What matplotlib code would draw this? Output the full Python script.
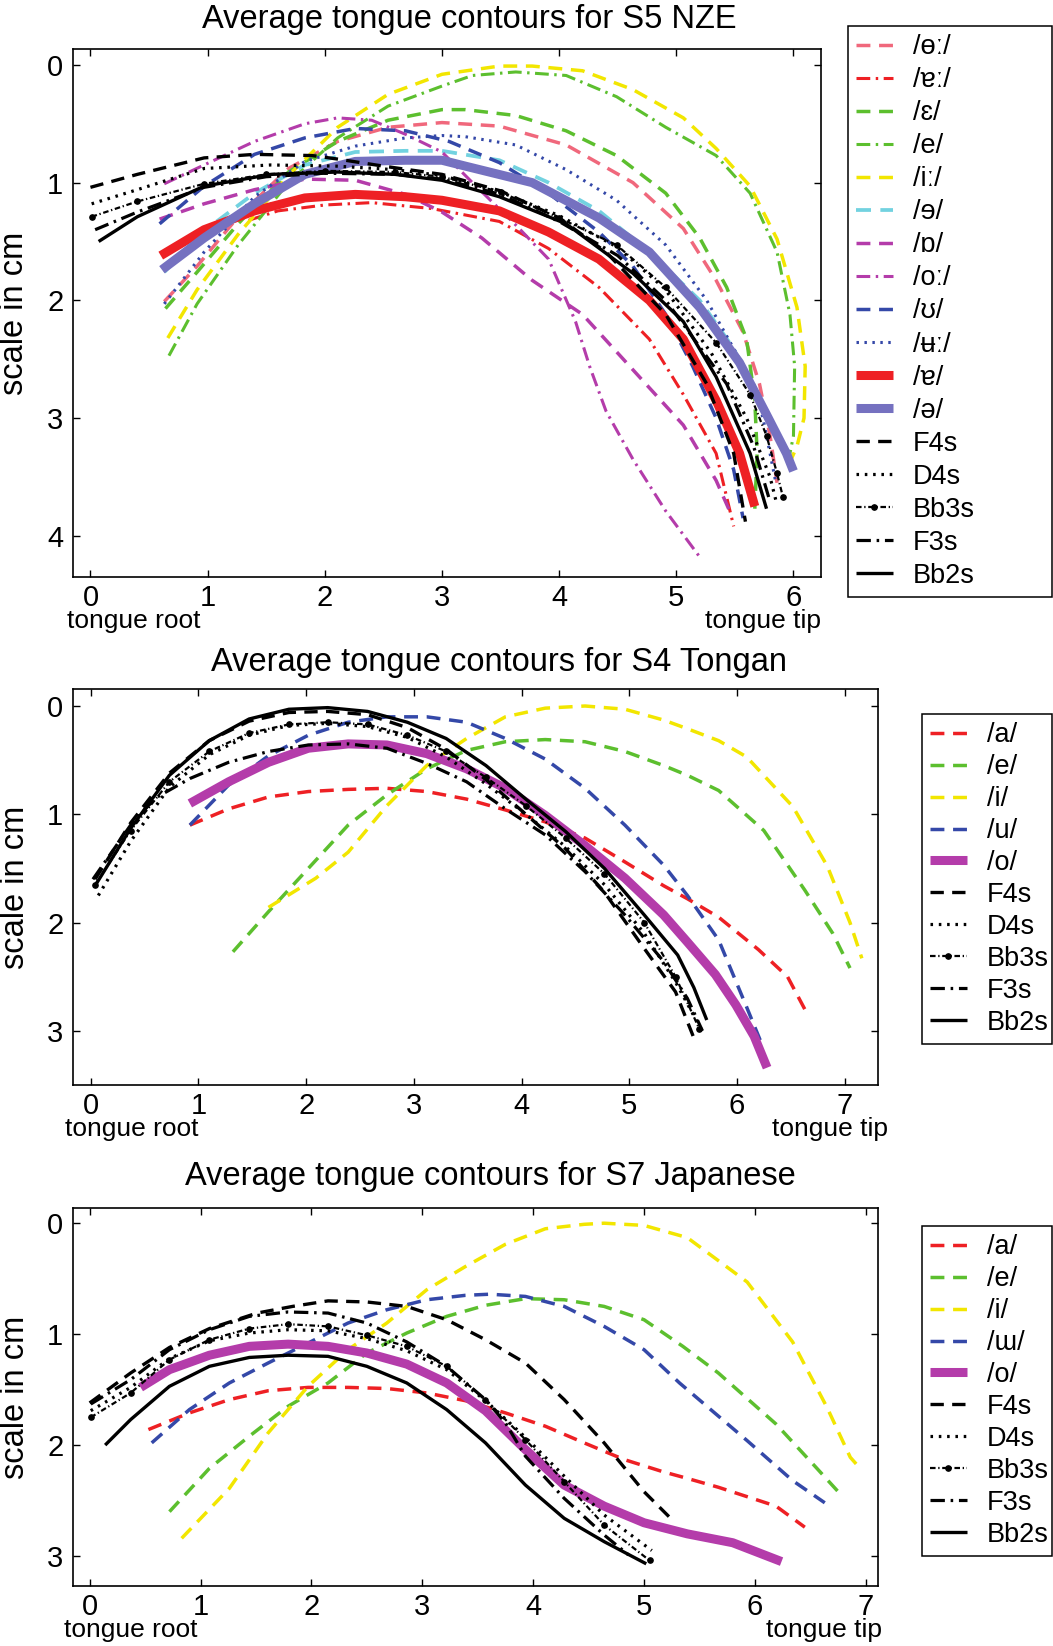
import matplotlib
matplotlib.use('Agg')
import matplotlib.pyplot as plt

plt.rcParams['font.family'] = ['Liberation Sans', 'DejaVu Sans']

# ---------------- data: S5 NZE ----------------
nze_labels = ['/ɵː/', '/ɐː/', '/ɛ/', '/e/', '/iː/', '/ɘ/', '/ɒ/', '/oː/', '/ʊ/', '/ʉː/', '/ɐ/', '/ə/',
              'F4s', 'D4s', 'Bb3s', 'F3s', 'Bb2s']
nze_x = [
    [0.63, 0.91, 1.26, 1.69, 2.11, 2.54, 3.0, 3.49, 4.06, 4.63, 5.06, 5.34, 5.57, 5.71, 5.80, 5.86],
    [1.35, 1.6, 2.0, 2.4, 2.91, 3.49, 3.91, 4.34, 4.77, 5.06, 5.34, 5.49],
    [0.64, 0.91, 1.26, 1.69, 2.11, 2.54, 3.0, 3.2, 3.63, 4.06, 4.49, 4.91, 5.2, 5.43, 5.6, 5.67, 5.69, 5.67],
    [0.67, 0.91, 1.26, 1.69, 2.11, 2.54, 3.0, 3.26, 3.63, 4.06, 4.49, 4.91, 5.34, 5.63, 5.86, 5.97, 6.01, 6.0, 5.95],
    [0.66, 0.91, 1.26, 1.69, 2.11, 2.54, 3.0, 3.49, 3.77, 4.2, 4.63, 5.06, 5.34, 5.63, 5.86, 6.03, 6.1, 6.09, 6.03, 5.94],
    [0.63, 0.97, 1.4, 1.83, 2.26, 2.69, 3.0, 3.49, 3.91, 4.34, 4.77, 5.2, 5.49, 5.66, 5.75],
    [0.59, 0.97, 1.4, 1.83, 2.26, 2.69, 3.0, 3.34, 3.77, 4.2, 4.63, 5.06, 5.34, 5.46],
    [0.63, 0.97, 1.4, 1.83, 2.11, 2.4, 2.69, 3.0, 3.26, 3.63, 3.91, 4.14, 4.26, 4.4, 4.63, 4.91, 5.2],
    [0.59, 0.97, 1.4, 1.83, 2.26, 2.69, 3.06, 3.49, 3.91, 4.34, 4.63, 4.91, 5.14, 5.34, 5.49, 5.57],
    [0.63, 0.97, 1.4, 1.83, 2.26, 2.69, 3.0, 3.2, 3.63, 4.06, 4.49, 4.91, 5.26, 5.49, 5.66, 5.74, 5.8, 5.85],
    [0.6, 0.97, 1.4, 1.83, 2.26, 2.69, 3.0, 3.49, 3.91, 4.34, 4.77, 5.06, 5.34, 5.54, 5.67],
    [0.61, 0.97, 1.4, 1.83, 2.26, 2.69, 3.0, 3.2, 3.77, 4.34, 4.77, 5.2, 5.54, 5.77, 5.94, 6.0],
    [0.0, 0.4, 0.97, 1.4, 1.89, 2.11, 2.5, 3.0, 3.5, 4.0, 4.4, 4.91, 5.26, 5.49, 5.59],
    [0.01, 0.4, 0.97, 1.54, 2.1, 2.6, 3.0, 3.5, 4.0, 4.5, 4.9, 5.3, 5.6, 5.8, 5.85],
    [0.01, 0.4, 0.97, 1.5, 2.0, 2.6, 3.0, 3.5, 4.0, 4.49, 4.91, 5.34, 5.63, 5.77, 5.86, 5.91],
    [0.04, 0.4, 0.97, 1.5, 2.0, 2.6, 3.0, 3.5, 4.0, 4.5, 4.91, 5.43, 5.66, 5.8],
    [0.07, 0.4, 0.97, 1.54, 2.11, 2.6, 3.0, 3.49, 4.06, 4.63, 5.06, 5.34, 5.63, 5.77],
]
nze_y = [
    [2.01, 1.71, 1.29, 0.88, 0.65, 0.53, 0.49, 0.52, 0.68, 1.0, 1.39, 1.83, 2.27, 2.71, 3.15, 3.55],
    [1.32, 1.24, 1.19, 1.17, 1.22, 1.33, 1.56, 1.89, 2.33, 2.80, 3.30, 3.92],
    [2.07, 1.76, 1.35, 0.91, 0.65, 0.47, 0.38, 0.38, 0.43, 0.56, 0.77, 1.09, 1.47, 1.89, 2.33, 2.85, 3.30, 3.77],
    [2.47, 2.03, 1.53, 1.0, 0.62, 0.35, 0.18, 0.09, 0.06, 0.09, 0.27, 0.53, 0.77, 1.09, 1.59, 2.12, 2.56, 3.15, 3.40],
    [2.32, 1.91, 1.44, 0.94, 0.53, 0.25, 0.08, 0.01, 0.01, 0.05, 0.21, 0.45, 0.71, 1.03, 1.48, 2.06, 2.56, 3.0, 3.24, 3.44],
    [1.76, 1.41, 1.09, 0.85, 0.74, 0.73, 0.73, 0.81, 1.0, 1.24, 1.59, 2.0, 2.41, 2.77, 2.95],
    [1.31, 1.18, 1.06, 0.97, 0.98, 1.1, 1.25, 1.47, 1.83, 2.12, 2.59, 3.06, 3.53, 3.8],
    [1.01, 0.85, 0.65, 0.5, 0.45, 0.47, 0.59, 0.74, 1.0, 1.36, 1.65, 2.18, 2.56, 2.94, 3.35, 3.79, 4.18],
    [1.35, 1.03, 0.76, 0.62, 0.54, 0.56, 0.65, 0.83, 1.09, 1.42, 1.71, 2.12, 2.56, 3.0, 3.44, 3.85],
    [2.03, 1.59, 1.12, 0.82, 0.69, 0.62, 0.6, 0.61, 0.68, 0.89, 1.15, 1.53, 2.0, 2.41, 2.71, 3.0, 3.3, 3.55],
    [1.62, 1.4, 1.24, 1.13, 1.1, 1.12, 1.15, 1.24, 1.42, 1.65, 2.0, 2.33, 2.85, 3.3, 3.75],
    [1.74, 1.47, 1.18, 0.93, 0.82, 0.81, 0.81, 0.86, 1.0, 1.3, 1.59, 2.06, 2.53, 2.97, 3.30, 3.45],
    [1.04, 0.93, 0.79, 0.76, 0.77, 0.8, 0.86, 0.93, 1.07, 1.3, 1.59, 2.12, 2.71, 3.3, 3.88],
    [1.18, 1.06, 0.88, 0.85, 0.86, 0.89, 0.94, 1.08, 1.28, 1.55, 1.9, 2.45, 3.0, 3.5, 3.7],
    [1.29, 1.16, 1.01, 0.93, 0.9, 0.91, 0.95, 1.08, 1.3, 1.53, 1.89, 2.36, 2.8, 3.15, 3.47, 3.67],
    [1.4, 1.25, 1.04, 0.95, 0.92, 0.93, 0.97, 1.1, 1.33, 1.62, 2.0, 2.71, 3.24, 3.71],
    [1.5, 1.29, 1.03, 0.93, 0.91, 0.93, 0.98, 1.12, 1.35, 1.77, 2.18, 2.65, 3.30, 3.77],
]

# ---------------- data: S4 Tongan ----------------
ton_labels = ['/a/', '/e/', '/i/', '/u/', '/o/', 'F4s', 'D4s', 'Bb3s', 'F3s', 'Bb2s']
ton_x = [
    [0.92, 1.28, 1.65, 2.02, 2.39, 2.75, 3.12, 3.49, 3.85, 4.22, 4.59, 4.96, 5.32, 5.54, 5.83, 6.2, 6.47, 6.63],
    [1.32, 1.65, 2.02, 2.39, 2.75, 3.12, 3.49, 3.85, 4.22, 4.59, 4.96, 5.32, 5.54, 5.83, 6.25, 6.63, 6.89, 7.05],
    [1.65, 2.09, 2.39, 2.75, 3.12, 3.49, 3.85, 4.22, 4.59, 4.96, 5.32, 5.54, 5.83, 6.09, 6.52, 6.84, 7.05, 7.16],
    [0.92, 1.28, 1.65, 2.02, 2.39, 2.75, 3.12, 3.49, 3.85, 4.22, 4.59, 4.96, 5.32, 5.54, 5.83, 6.09, 6.23],
    [0.92, 1.28, 1.65, 2.02, 2.39, 2.75, 3.12, 3.49, 3.85, 4.22, 4.59, 4.96, 5.32, 5.54, 5.8, 5.99, 6.16, 6.28],
    [0.04, 0.37, 0.73, 1.1, 1.47, 1.84, 2.2, 2.57, 2.94, 3.3, 3.67, 4.04, 4.41, 4.77, 5.14, 5.43, 5.61],
    [0.07, 0.37, 0.73, 1.1, 1.47, 1.84, 2.2, 2.57, 2.94, 3.3, 3.67, 4.04, 4.41, 4.77, 5.14, 5.43, 5.65],
    [0.04, 0.37, 0.73, 1.1, 1.47, 1.84, 2.2, 2.57, 2.94, 3.3, 3.67, 4.04, 4.41, 4.77, 5.14, 5.43, 5.65],
    [0.02, 0.37, 0.6, 0.92, 1.28, 1.65, 2.02, 2.39, 2.75, 3.12, 3.49, 3.85, 4.22, 4.59, 4.96, 5.32, 5.54, 5.68],
    [0.04, 0.37, 0.73, 1.1, 1.47, 1.84, 2.2, 2.57, 2.94, 3.3, 3.67, 4.04, 4.41, 4.77, 5.14, 5.45, 5.6, 5.72],
]
ton_y = [
    [1.1, 0.95, 0.84, 0.79, 0.77, 0.76, 0.79, 0.86, 0.96, 1.07, 1.22, 1.44, 1.66, 1.78, 1.95, 2.25, 2.5, 2.8],
    [2.27, 1.9, 1.5, 1.1, 0.82, 0.58, 0.41, 0.33, 0.31, 0.33, 0.42, 0.55, 0.64, 0.78, 1.15, 1.7, 2.1, 2.42],
    [1.86, 1.59, 1.35, 0.92, 0.55, 0.3, 0.1, 0.02, 0.0, 0.03, 0.13, 0.21, 0.32, 0.47, 0.93, 1.48, 2.0, 2.33],
    [1.1, 0.73, 0.46, 0.27, 0.15, 0.1, 0.1, 0.15, 0.3, 0.49, 0.76, 1.1, 1.47, 1.75, 2.16, 2.78, 3.12],
    [0.9, 0.7, 0.52, 0.39, 0.35, 0.36, 0.44, 0.58, 0.76, 1.01, 1.29, 1.59, 1.93, 2.18, 2.48, 2.76, 3.05, 3.34],
    [1.6, 1.08, 0.62, 0.32, 0.14, 0.06, 0.05, 0.08, 0.2, 0.4, 0.68, 1.0, 1.32, 1.72, 2.24, 2.64, 3.09],
    [1.75, 1.25, 0.75, 0.45, 0.27, 0.18, 0.16, 0.19, 0.29, 0.47, 0.72, 1.0, 1.3, 1.65, 2.1, 2.55, 2.95],
    [1.65, 1.15, 0.7, 0.42, 0.25, 0.17, 0.15, 0.17, 0.27, 0.42, 0.66, 0.92, 1.22, 1.55, 2.0, 2.5, 2.98],
    [1.6, 1.1, 0.85, 0.67, 0.52, 0.42, 0.36, 0.35, 0.39, 0.53, 0.7, 0.95, 1.19, 1.53, 1.93, 2.36, 2.7, 3.0],
    [1.66, 1.13, 0.64, 0.32, 0.12, 0.03, 0.015, 0.05, 0.15, 0.3, 0.55, 0.86, 1.16, 1.5, 1.93, 2.3, 2.6, 2.9],
]

# ---------------- data: S7 Japanese ----------------
jap_labels = ['/a/', '/e/', '/i/', '/ɯ/', '/o/', 'F4s', 'D4s', 'Bb3s', 'F3s', 'Bb2s']
jap_x = [
    [0.53, 0.9, 1.26, 1.61, 1.97, 2.33, 2.68, 3.04, 3.39, 3.75, 4.11, 4.46, 4.82, 5.17, 5.39, 5.67, 6.19, 6.45],
    [0.72, 1.08, 1.44, 1.79, 2.15, 2.5, 2.86, 3.22, 3.57, 3.93, 4.28, 4.64, 5.0, 5.35, 5.67, 6.19, 6.55, 6.76],
    [0.83, 1.26, 1.61, 1.97, 2.33, 2.68, 3.04, 3.39, 3.75, 4.11, 4.46, 4.64, 5.0, 5.39, 5.93, 6.34, 6.65, 6.86, 6.94],
    [0.56, 0.9, 1.26, 1.61, 1.97, 2.33, 2.68, 3.04, 3.39, 3.61, 3.93, 4.28, 4.64, 5.0, 5.32, 5.93, 6.34, 6.63],
    [0.46, 0.72, 1.08, 1.44, 1.79, 2.15, 2.5, 2.86, 3.22, 3.57, 3.93, 4.28, 4.64, 5.0, 5.39, 5.8, 6.24],
    [0.0, 0.37, 0.72, 1.08, 1.51, 1.83, 2.15, 2.5, 2.86, 3.22, 3.57, 3.93, 4.28, 4.64, 5.0, 5.24],
    [0.01, 0.37, 0.72, 1.08, 1.44, 1.79, 2.15, 2.5, 2.86, 3.22, 3.57, 3.93, 4.28, 4.64, 5.07],
    [0.01, 0.37, 0.72, 1.08, 1.44, 1.79, 2.15, 2.5, 2.86, 3.22, 3.57, 3.93, 4.28, 4.64, 5.05],
    [0.01, 0.37, 0.72, 1.08, 1.44, 1.79, 2.15, 2.5, 2.86, 3.22, 3.57, 3.75, 3.93, 4.28, 4.64, 4.86],
    [0.14, 0.37, 0.72, 1.08, 1.44, 1.79, 2.15, 2.5, 2.86, 3.22, 3.57, 3.93, 4.28, 4.64, 5.02],
]
jap_y = [
    [1.86, 1.71, 1.59, 1.51, 1.48, 1.48, 1.49, 1.53, 1.6, 1.71, 1.83, 1.98, 2.13, 2.24, 2.3, 2.38, 2.55, 2.74],
    [2.6, 2.21, 1.92, 1.65, 1.44, 1.17, 0.99, 0.84, 0.74, 0.68, 0.69, 0.75, 0.87, 1.11, 1.35, 1.81, 2.2, 2.43],
    [2.84, 2.39, 1.89, 1.47, 1.14, 0.9, 0.6, 0.39, 0.19, 0.05, 0.01, 0.0, 0.02, 0.13, 0.53, 1.07, 1.66, 2.11, 2.2],
    [1.98, 1.68, 1.44, 1.26, 1.08, 0.9, 0.78, 0.69, 0.65, 0.64, 0.66, 0.75, 0.93, 1.14, 1.44, 1.96, 2.32, 2.52],
    [1.48, 1.32, 1.19, 1.11, 1.09, 1.11, 1.17, 1.27, 1.44, 1.69, 2.04, 2.36, 2.55, 2.7, 2.8, 2.88, 3.05],
    [1.62, 1.35, 1.12, 0.95, 0.81, 0.75, 0.7, 0.71, 0.75, 0.87, 1.05, 1.26, 1.59, 1.98, 2.42, 2.66],
    [1.69, 1.48, 1.22, 1.06, 0.99, 0.96, 0.97, 1.04, 1.15, 1.32, 1.6, 1.93, 2.28, 2.63, 2.95],
    [1.75, 1.53, 1.23, 1.05, 0.95, 0.91, 0.93, 1.01, 1.11, 1.29, 1.59, 1.95, 2.33, 2.72, 3.04],
    [1.63, 1.41, 1.14, 0.96, 0.84, 0.8, 0.81, 0.9, 1.07, 1.29, 1.59, 1.8, 2.1, 2.48, 2.81, 2.99],
    [2.0, 1.77, 1.47, 1.29, 1.21, 1.19, 1.2, 1.29, 1.44, 1.68, 1.98, 2.36, 2.66, 2.87, 3.07],
]

# ---------------- styles ----------------
DASH = (0, (4, 2.5))
DASHDOT = (0, (4.5, 1.8, 0.8, 1.8))
DOT = (0, (0.8, 1.8))
BB3 = (0, (2.5, 1.2, 0.6, 1.2))

PINK = '#f0687c'
RED = '#ee2024'
GREEN = '#5cbf2e'
YELLOW = '#f2e600'
CYAN = '#72d2e0'
MAGENTA = '#b43caa'
BLUE = '#3448a8'
SLATE = '#7571c0'

# (color, linestyle, linewidth, marker)
black_styles = [
    ('black', DASH, 2.4, None),
    ('black', DOT, 2.3, None),
    ('black', BB3, 1.6, 'o'),
    ('black', DASHDOT, 2.3, None),
    ('black', '-', 2.4, None),
]
nze_styles = [
    (PINK, DASH, 2.5, None),
    (RED, DASHDOT, 2.2, None),
    (GREEN, DASH, 2.5, None),
    (GREEN, DASHDOT, 2.2, None),
    (YELLOW, DASH, 2.5, None),
    (CYAN, DASH, 2.7, None),
    (MAGENTA, DASH, 2.5, None),
    (MAGENTA, DASHDOT, 2.2, None),
    (BLUE, DASH, 2.5, None),
    (BLUE, DOT, 2.2, None),
    (RED, '-', 6.5, None),
    (SLATE, '-', 6.5, None),
] + black_styles
vowel5_styles = [
    (RED, DASH, 2.5, None),
    (GREEN, DASH, 2.5, None),
    (YELLOW, DASH, 2.5, None),
    (BLUE, DASH, 2.5, None),
    (MAGENTA, '-', 6.5, None),
] + black_styles

W, H = 1053, 1646
fig = plt.figure(figsize=(W / 100, H / 100), dpi=100)


def draw(rect, xs, ys, labels, styles, xlim, ylim, xticks, yticks, title, title_x, title_off,
         ylab_x, root_x, tip_x, leg_box, spacing):
    ax = fig.add_axes(rect)
    for x, y, lab, (c, ls, lw, mk) in zip(xs, ys, labels, styles):
        ax.plot(x, y, color=c, linestyle=ls, linewidth=lw, label=lab,
                marker=mk, markersize=3.8, solid_capstyle='butt', dash_capstyle='butt')
    ax.set_xlim(*xlim)
    ax.set_ylim(*ylim)
    ax.set_xticks(xticks)
    ax.set_yticks(yticks)
    ax.tick_params(direction='in', length=5, width=1, labelsize=21, top=True, right=True)
    ax.tick_params(axis='x', pad=5)
    ax.tick_params(axis='y', pad=7)
    for s in ax.spines.values():
        s.set_linewidth(1.2)
    ax.set_ylabel('scale in cm', fontsize=23.5)
    ax.yaxis.set_label_coords(ylab_x, 0.5)
    ax.annotate(title, xy=(title_x, 1), xycoords='axes fraction', xytext=(0, title_off),
                textcoords='offset points', ha='center', va='center', fontsize=23.5)
    for txt, xv in (('tongue root', root_x), ('tongue tip', tip_x)):
        ax.annotate(txt, xy=(xv, 0), xycoords=('data', 'axes fraction'), xytext=(0, -32),
                    textcoords='offset points', ha='center', va='center', fontsize=19)
    leg = fig.legend(*ax.get_legend_handles_labels(), loc='upper left', bbox_to_anchor=leg_box,
                     mode='expand', fontsize=19.5, frameon=True, fancybox=False, framealpha=1,
                     edgecolor='black', borderaxespad=0, handlelength=1.35, handletextpad=0.75,
                     labelspacing=spacing, borderpad=0.3)
    leg.get_frame().set_linewidth(1.1)
    return ax


draw([73 / W, 1 - 577 / H, 748 / W, 528 / H], nze_x, nze_y, nze_labels, nze_styles,
     (-0.149, 6.235), (4.35, -0.135), range(7), range(5),
     'Average tongue contours for S5 NZE', 0.53, 21, -0.058, 0.37, 5.74,
     (848 / W, 1 - 601 / H, 204 / W, 575 / H), 0.26)

draw([73 / W, 1 - 1085 / H, 805 / W, 396 / H], ton_x, ton_y, ton_labels, vowel5_styles,
     (-0.165, 7.31), (3.50, -0.157), range(8), range(4),
     'Average tongue contours for S4 Tongan', 0.529, 19, -0.052, 0.38, 6.86,
     (922 / W, 1 - 1054 / H, 130 / W, 340 / H), 0.22)

draw([73 / W, 1 - 1586 / H, 805 / W, 378 / H], jap_x, jap_y, jap_labels, vowel5_styles,
     (-0.15, 7.11), (3.27, -0.137), range(8), range(4),
     'Average tongue contours for S7 Japanese', 0.519, 23, -0.052, 0.37, 6.62,
     (922 / W, 1 - 1564 / H, 130 / W, 338 / H), 0.22)

fig.savefig('out.png', dpi=100)
